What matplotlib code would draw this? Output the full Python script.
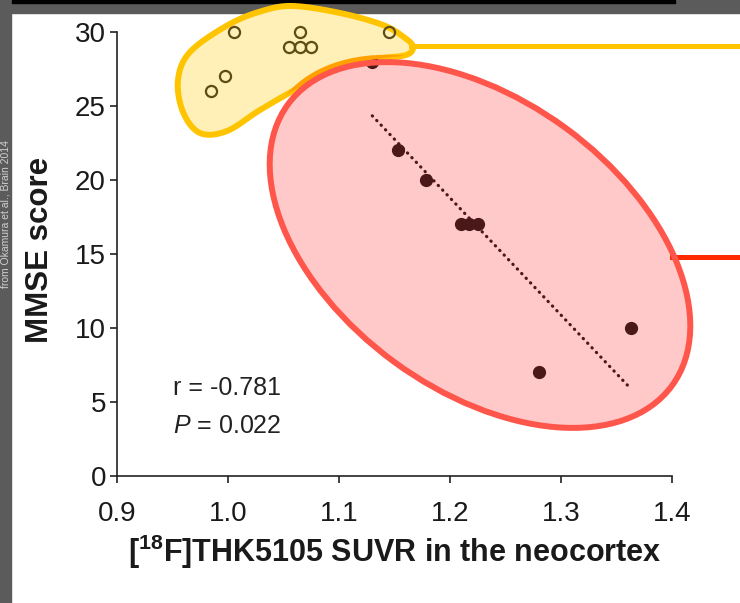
import numpy as np
import matplotlib
matplotlib.use("Agg")
import matplotlib.pyplot as plt
import matplotlib.transforms as mtransforms
from matplotlib.patches import Polygon, Ellipse, Rectangle
from matplotlib.lines import Line2D

plt.rcParams['font.family'] = ['Liberation Sans', 'DejaVu Sans']
plt.rcParams['mathtext.fontset'] = 'custom'
plt.rcParams['mathtext.rm'] = 'Liberation Sans'
plt.rcParams['mathtext.it'] = 'Liberation Sans:italic'
plt.rcParams['mathtext.bf'] = 'Liberation Sans:bold'

# normal-cognition group (open circles)
nc_suvr = [1.005, 1.065, 1.145, 1.055, 1.065, 1.075, 0.985, 0.997]
nc_mmse = [30, 30, 30, 29, 29, 29, 26, 27]

# AD group (filled dots)
ad_suvr = [1.130, 1.153, 1.178, 1.210, 1.217, 1.225, 1.280, 1.363]
ad_mmse = [28, 22, 20, 17, 17, 17, 7, 10]

x_ticks = [0.9, 1.0, 1.1, 1.2, 1.3, 1.4]
y_ticks = [0, 5, 10, 15, 20, 25, 30]
stats_r = "r = -0.781"
stats_p = "$\\mathit{P}$ = 0.022"

W, H = 740, 603
fig = plt.figure(figsize=(W / 100, H / 100), dpi=100, facecolor='white')
ax = fig.add_axes([117 / W, 1 - 476 / H, 555 / W, 444 / H])
ax.set_facecolor('none')

# pixel coords (y down) for the hand-drawn overlays
px = mtransforms.Affine2D().scale(1 / W, -1 / H).translate(0, 1) + fig.transFigure

# dark frame around the slide
fig.add_artist(Rectangle((0, 0), W, 13, transform=px, color='#5b5b5b', zorder=-2))
fig.add_artist(Rectangle((0, 0), 11, H, transform=px, color='#5b5b5b', zorder=-2))
fig.add_artist(Rectangle((12, 0), 663, 3, transform=px, color='black', zorder=-1))
fig.text(6 / W, 1 - 140 / H, "from Okamura et al., Brain 2014", rotation=90,
         ha='center', va='top', fontsize=7.5, color='#d0d0d0', zorder=-1)


def closed_spline(pts, n=24):
    P = np.array(pts, float)
    N = len(P)
    t = np.linspace(0, 1, n, endpoint=False)[:, None]
    out = []
    for i in range(N):
        p0, p1, p2, p3 = P[i - 1], P[i], P[(i + 1) % N], P[(i + 2) % N]
        out.append(0.5 * (2 * p1 + (-p0 + p2) * t + (2 * p0 - 5 * p1 + 4 * p2 - p3) * t ** 2
                          + (-p0 + 3 * p1 - 3 * p2 + p3) * t ** 3))
    return np.vstack(out)


blob_pts = [(293, 6), (340, 13), (383, 25), (405, 38), (413, 47), (406, 55), (377, 59),
            (337, 68), (300, 87), (260, 110), (227, 131), (200, 133), (183, 112),
            (178, 80), (190, 52), (228, 25), (262, 11)]
blob = closed_spline(blob_pts)

yfill = Polygon(blob, closed=True, transform=px, facecolor='#fff0b8', edgecolor='none',
                zorder=1, clip_on=False)
ax.add_patch(yfill)
ax.add_patch(Polygon(blob, closed=True, transform=px, facecolor='none', edgecolor='#ffc400',
                     lw=4.3, zorder=1.5, clip_on=False))
ax.add_line(Line2D([411, 740], [46, 46], transform=px, color='#ffc400', lw=3.6,
                   zorder=1.4, clip_on=False))

# red ellipse around the AD group
ecx, ecy, ea, eb, eang = 480, 245, 238, 145, 36.2
ax.add_patch(Ellipse((ecx, ecy), 2 * ea, 2 * eb, angle=eang, transform=px,
                     facecolor='#ffc9c9', edgecolor='none', zorder=2, clip_on=False))
band = Ellipse((ecx, ecy), 2 * ea + 8, 2 * eb + 8, angle=eang, transform=px,
               facecolor='none', edgecolor='#ffa200', lw=5, zorder=3.5)
ax.add_patch(band)
band.set_clip_path(yfill)
band.set_clip_on(True)
ax.add_line(Line2D([672, 740], [257, 257], transform=px, color='#ff2a00', lw=3.6,
                   zorder=3.8, clip_on=False))
ax.add_patch(Ellipse((ecx, ecy), 2 * ea, 2 * eb, angle=eang, transform=px,
                     facecolor='none', edgecolor='#ff564c', lw=4.3, zorder=4, clip_on=False))

# data
ax.plot(nc_suvr, nc_mmse, 'o', ms=8, mfc='none', mec='#5e4c16', mew=1.6, zorder=3,
        clip_on=False)
ax.plot(ad_suvr, ad_mmse, 'o', ms=8.5, color='#4a1818', zorder=3, clip_on=False)

k, b = np.polyfit(ad_suvr, ad_mmse, 1)
xf = np.array([min(ad_suvr), max(ad_suvr)])
ax.plot(xf, k * xf + b, color='#4a1818', lw=2.3, ls=(0, (0.1, 1.9)),
        dash_capstyle='round', zorder=3)

ax.text(0.9505, 5.95, stats_r, fontsize=18, color='#222222', va='center')
ax.text(0.9505, 3.4, stats_p, fontsize=18, color='#222222', va='center')

ax.set_xlim(0.9, 1.4)
ax.set_ylim(0, 30)
ax.set_xticks(x_ticks)
ax.set_xticklabels([f"{v:.1f}" for v in x_ticks])
ax.set_yticks(y_ticks)
for s in ['top', 'right']:
    ax.spines[s].set_visible(False)
for s in ['left', 'bottom']:
    ax.spines[s].set_color('#222222')
    ax.spines[s].set_linewidth(1.2)
ax.tick_params(direction='out', length=5, width=1.2, color='#222222',
               labelsize=20, labelcolor='#1a1a1a')
ax.tick_params(axis='x', pad=13)
ax.tick_params(axis='y', pad=3)

ax.set_xlabel("[$\\mathbf{^{18}}$F]THK5105 SUVR in the neocortex", fontsize=22,
              fontweight='bold', color='#1a1a1a')
ax.xaxis.set_label_coords(0.5, -0.17)
ax.xaxis.label.set_va('center')
ax.set_ylabel("MMSE score", fontsize=22.5, fontweight='bold', color='#1a1a1a')
ax.yaxis.set_label_coords(-0.139, 0.509)
ax.yaxis.label.set_va('center')

fig.savefig("out.png", dpi=100, facecolor='white')
